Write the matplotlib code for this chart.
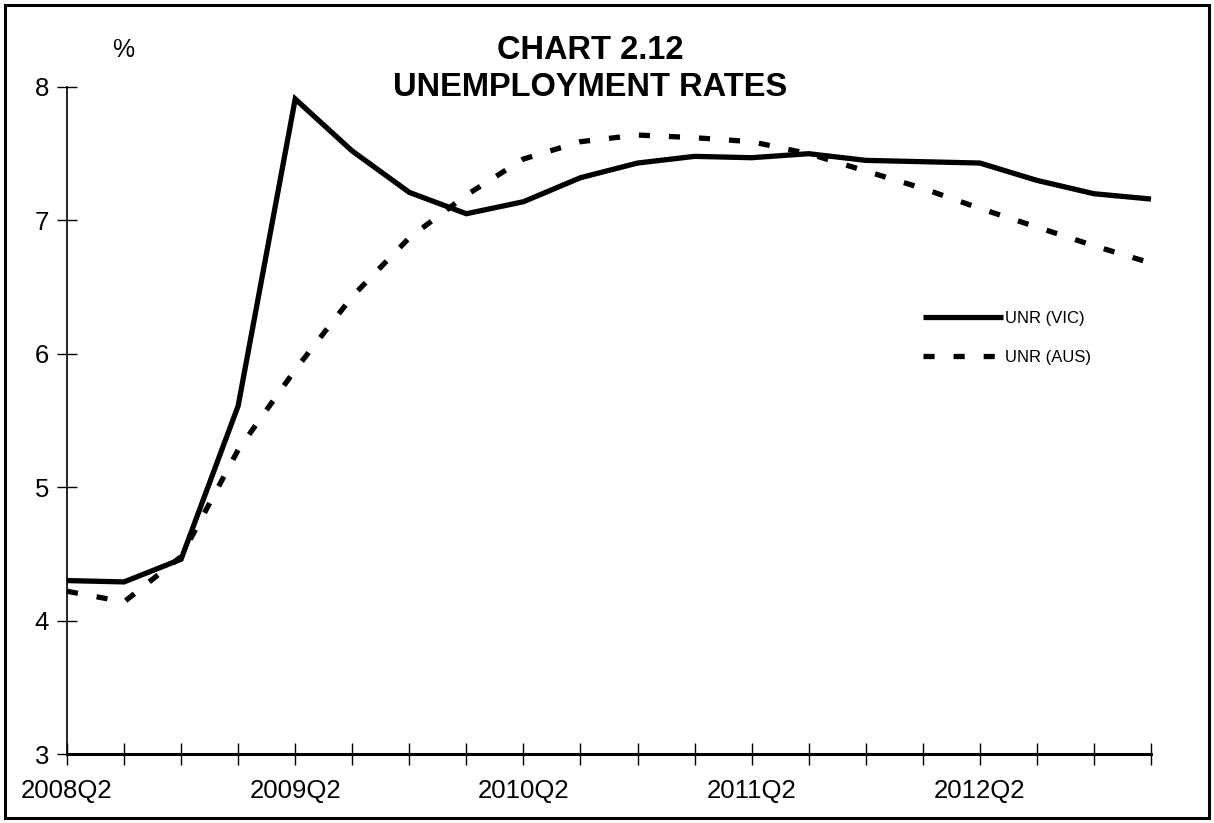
import matplotlib
matplotlib.use("Agg")
import matplotlib.pyplot as plt
from matplotlib.patches import Rectangle

plt.rcParams['font.family'] = ['Liberation Sans', 'DejaVu Sans']

# quarterly unemployment rates, 2008Q2 .. 2013Q1
quarters = ['2008Q2', '2008Q3', '2008Q4', '2009Q1',
            '2009Q2', '2009Q3', '2009Q4', '2010Q1',
            '2010Q2', '2010Q3', '2010Q4', '2011Q1',
            '2011Q2', '2011Q3', '2011Q4', '2012Q1',
            '2012Q2', '2012Q3', '2012Q4', '2013Q1']
unr_vic = [4.30, 4.29, 4.46, 5.61, 7.91, 7.52, 7.21, 7.05, 7.14, 7.32,
           7.43, 7.48, 7.47, 7.50, 7.45, 7.44, 7.43, 7.30, 7.20, 7.16]
unr_aus = [4.22, 4.14, 4.48, 5.28, 5.88, 6.43, 6.87, 7.19, 7.46, 7.59,
           7.64, 7.62, 7.59, 7.50, 7.37, 7.24, 7.09, 6.95, 6.81, 6.68]
y_ticks = [3, 4, 5, 6, 7, 8]

W, H = 1214, 823
fig = plt.figure(figsize=(W / 100, H / 100), dpi=100)
ax = fig.add_axes([67 / W, 1 - 754 / H, (1151 - 67) / W, (754 - 87) / H])

x = list(range(len(quarters)))
ax.plot(x, unr_vic, color='black', lw=3.8, solid_capstyle='butt',
        solid_joinstyle='miter', label='UNR (VIC)', clip_on=False)
ax.plot(x, unr_aus, color='black', lw=3.8, dashes=(2.1, 3.6),
        label='UNR (AUS)', clip_on=False)

ax.set_xlim(0, len(quarters) - 1)
ax.set_ylim(3, 8)
ax.set_yticks(y_ticks)
ax.set_xticks(x)
ax.set_xticklabels([q if i % 4 == 0 else '' for i, q in enumerate(quarters)])

for s in ['top', 'right']:
    ax.spines[s].set_visible(False)
ax.spines['left'].set_linewidth(1.2)
ax.spines['bottom'].set_linewidth(2.2)

ax.tick_params(axis='both', direction='inout', width=1.0, labelsize=18.5,
               colors='black')
ax.tick_params(axis='y', length=14, pad=6)
ax.tick_params(axis='x', length=16, pad=10)

fig.text(123 / W, 1 - 50 / H, '%', fontsize=18, ha='center', va='center')
fig.text(590 / W, 1 - 69 / H, 'CHART 2.12\nUNEMPLOYMENT RATES', fontsize=23.5,
         fontweight='bold', ha='center', va='center', linespacing=1.25)

leg = ax.legend(loc='center left', bbox_to_anchor=(923 / W, 1 - 338 / H),
                bbox_transform=fig.transFigure, frameon=False, fontsize=12,
                handlelength=4.8, handletextpad=0.1, labelspacing=1.45,
                borderpad=0, borderaxespad=0)

# border round the whole chart
fig.patches.append(Rectangle((5 / W, 5 / H), 1 - 10 / W, 1 - 10 / H,
                             transform=fig.transFigure, fill=False,
                             edgecolor='black', lw=2.2))

fig.savefig('out.png', dpi=100)
